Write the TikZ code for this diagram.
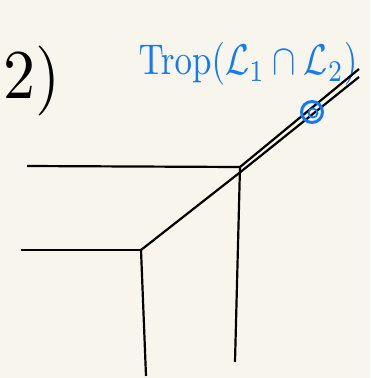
\documentclass[tikz,border=0pt]{standalone}
\usepackage{amsmath,amssymb}
\usepackage{graphicx}
\usepackage{tikz}
\definecolor{penblue}{RGB}{18,122,245}
\definecolor{paper}{RGB}{248,246,236}
\usetikzlibrary{calc,positioning}

\begin{document}
\begin{tikzpicture}[
  x=1pt,y=-1pt,
  edge/.style={line width=2.2pt,black},
]
  % Paper
  \fill[paper] (0,0) rectangle (370,378);
  \useasboundingbox (0,0) rectangle (370,378);

  % Labels
  \node[anchor=west,inner sep=0pt] (num) at (3,81) {\scalebox{6.4}[7]{$2)$}};
  \node[text=penblue,inner sep=0pt] (trop) at (248,64)
    {\scalebox{3.5}[4.3]{$\mathrm{Trop}(\mathcal{L}_1\cap\mathcal{L}_2)$}};

  % Vertices and free ends
  \coordinate (v1) at (240,167);
  \coordinate (v2) at (141,250);
  \coordinate (e1) at (27,166);
  \coordinate (e2) at (235,362);
  \coordinate (e3) at (21,250);
  \coordinate (e4) at (146,376);
  \coordinate (d1) at (359,69);
  \coordinate (d2) at (359,77);
  \coordinate (v1b) at (243,170);

  % Edges
  \draw[edge] (e1) -- (v1);
  \draw[edge] (v1) -- (e2);
  \draw[edge] (e3) -- (v2);
  \draw[edge] (v2) -- (e4);
  \draw[edge] (v2) -- (v1b);

  % Double ray
  \draw[edge] (v1) -- (d1);
  \draw[edge] (v1b) -- (d2);

  % Marked point
  \node[draw=penblue,line width=3pt,circle,minimum size=21pt,inner sep=0pt] (pt) at (312,112) {};
  \node[draw=penblue,line width=1.8pt,circle,minimum size=9pt,inner sep=0pt] (ptin) at (313,113) {};
\end{tikzpicture}
\end{document}
